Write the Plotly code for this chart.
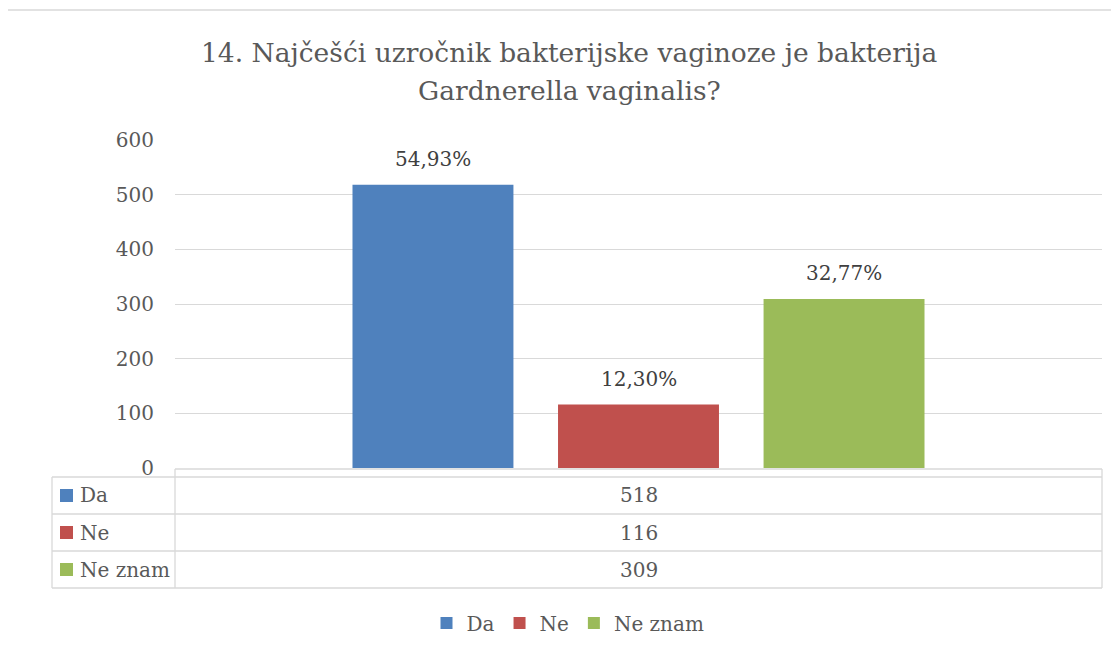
import plotly.graph_objects as go

# ---- data ----
categories = ["Da", "Ne", "Ne znam"]
values = [518, 116, 309]
colors = ["#4F81BD", "#C0504D", "#9BBB59"]
title_lines = ["14. Najčešći uzročnik bakterijske vaginoze je bakterija",
               "Gardnerella vaginalis?"]
y_ticks = [0, 100, 200, 300, 400, 500, 600]

total = sum(values)
pct_labels = [f"{v / total * 100:.2f}%".replace(".", ",") for v in values]

FONT = "DejaVu Serif"
TXT = "#595959"
GRID = "#D9D9D9"

W, H = 1119, 654
OFF = 8  # page body margin
L, R, T, B = 175, 1102, 140, 468  # plot area in screenshot coordinates


def px(x):
    return (x - L) / (R - L)


def py(y):
    return (B - y) / (B - T)


fig = go.Figure()
for i, (c, v, col) in enumerate(zip(categories, values, colors)):
    fig.add_trace(go.Bar(
        x=[i], y=[v], name=c, marker=dict(color=col, line=dict(width=0)),
        width=0.783, showlegend=True,
    ))
    fig.add_annotation(x=i, y=v, xref="x", yref="y", text=pct_labels[i],
                       showarrow=False, yanchor="bottom", yshift=12,
                       font=dict(family=FONT, size=20, color="#404040"))

shapes = []


def hline(x0, x1, y, w=1.3):
    shapes.append(dict(type="line", xref="paper", yref="paper",
                       x0=px(x0), x1=px(x1), y0=py(y), y1=py(y),
                       line=dict(color=GRID, width=w), layer="below"))


def vline(x, y0, y1, w=1.3):
    shapes.append(dict(type="line", xref="paper", yref="paper",
                       x0=px(x), x1=px(x), y0=py(y0), y1=py(y1),
                       line=dict(color=GRID, width=w), layer="below"))


# outer chart border
hline(7, 1130, 10)
vline(7, 10, 670)

# data table
row_top = 477
row_h = 37
hline(175, 1102, 469)
hline(52, 1102, row_top)
for k in range(len(categories)):
    hline(52, 1102, row_top + row_h * (k + 1))
vline(52, row_top, row_top + row_h * len(categories))
vline(175, 469, row_top + row_h * len(categories))
vline(1102, 469, row_top + row_h * len(categories))

annotations = []
for k, (c, v, col) in enumerate(zip(categories, values, colors)):
    yc = row_top + row_h * k + row_h / 2
    shapes.append(dict(type="rect", xref="paper", yref="paper",
                       x0=px(60), x1=px(73), y0=py(yc - 6.5), y1=py(yc + 6.5),
                       fillcolor=col, line=dict(width=0)))
    annotations.append(dict(xref="paper", yref="paper", x=px(78), y=py(yc),
                            xanchor="left", yanchor="middle", showarrow=False,
                            text=c, font=dict(family=FONT, size=20, color=TXT)))
    annotations.append(dict(xref="paper", yref="paper", x=px(638.5), y=py(yc),
                            xanchor="center", yanchor="middle", showarrow=False,
                            text=str(v), font=dict(family=FONT, size=20, color=TXT)))

# title (two lines)
for yline, t in zip([52, 90], title_lines):
    annotations.append(dict(xref="paper", yref="paper", x=px(569), y=py(yline),
                            xanchor="center", yanchor="middle", showarrow=False,
                            text=t, font=dict(family=FONT, size=26.5, color=TXT)))

for a in annotations:
    fig.add_annotation(**a)

fig.update_layout(
    width=W, height=H,
    margin=dict(l=L - OFF, r=W - R + OFF, t=T - OFF, b=H - B + OFF, pad=0),
    paper_bgcolor="white", plot_bgcolor="white",
    barmode="overlay",
    shapes=shapes,
    font=dict(family=FONT, size=20, color=TXT),
    xaxis=dict(range=[-1.255, 3.255], showticklabels=False, showgrid=False,
               zeroline=False, showline=False, fixedrange=True),
    yaxis=dict(range=[0, 600], tickvals=y_ticks, showgrid=True, gridcolor=GRID,
               gridwidth=1.3, zeroline=False, showline=False,
               ticklabelstandoff=20,
               tickfont=dict(family=FONT, size=20, color=TXT)),
    legend=dict(orientation="h", x=px(568), xanchor="center", y=py(623),
                yanchor="middle", font=dict(family=FONT, size=20, color=TXT),
                itemclick=False, itemdoubleclick=False),
)

fig.write_html("out.html")
